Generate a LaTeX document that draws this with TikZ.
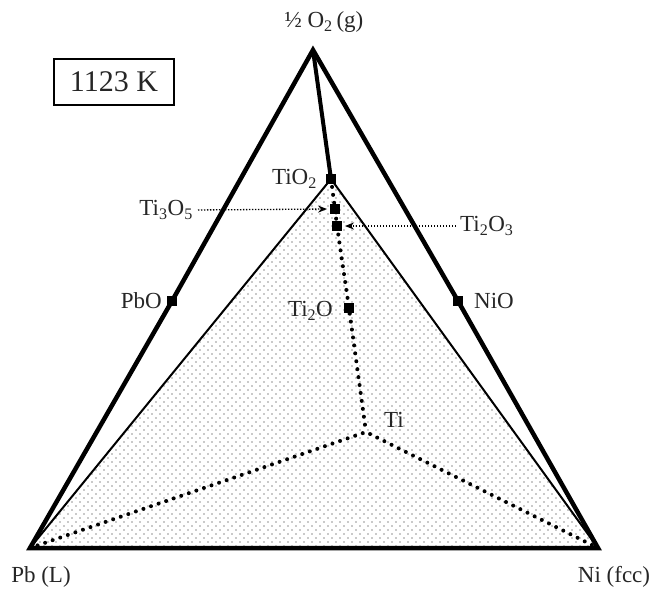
\documentclass[tikz,border=0pt]{standalone}
\usepackage{tikz}
\usepackage{fontspec}
\setmainfont{Liberation Serif}
\usetikzlibrary{arrows.meta, positioning, patterns.meta, backgrounds}
\tikzdeclarepattern{
  name=phasedots,
  bottom left={(-1pt,-1pt)},
  top right={(7pt,7pt)},
  tile size={(8pt,8pt)},
  code={\fill (0pt,0pt) circle (0.85pt); \fill (4pt,4pt) circle (0.85pt);}
}
\tikzset{
  phase/.style={fill=black, minimum size=9.5pt, inner sep=0pt},
  lbl/.style={font=\fontsize{23}{26}\selectfont, text=black!85, inner sep=0pt},
  tie/.style={line width=4pt, line cap=round, dash pattern=on 0pt off 8pt},
  pointer/.style={line width=1.3pt, dash pattern=on 1.3pt off 1.7pt, -{Stealth[length=9pt, width=7pt]}},
  boundary/.style={line width=4.5pt, line join=miter}
}

\begin{document}
\begin{tikzpicture}[x=1pt, y=-1pt]
  \useasboundingbox (0,0) rectangle (654,590);
  \coordinate (o2) at (313,50);
  \coordinate (pb) at (30,548);
  \coordinate (ni) at (598,548);
  \coordinate (ti) at (366,432);
  \node[phase] (tio2) at (331,179) {};
  \node[phase] (ti3o5) at (335,209) {};
  \node[phase] (ti2o3) at (337,226) {};
  \node[phase] (ti2o) at (349,308) {};
  \node[phase] (pbo) at (172,301) {};
  \node[phase] (nio) at (458,301) {};
  \begin{scope}[on background layer]
    \fill[pattern=phasedots, pattern color=gray!85] (pb) -- (tio2.center) -- (ni) -- cycle;
  \end{scope}
  \draw[line width=2pt] (pb) -- (tio2.center) -- (ni);
  \draw[boundary] (o2) -- (pbo.center) -- (pb) -- (ni) -- (nio.center) -- cycle;
  \draw[line width=4pt] (o2) -- (tio2.center);
  \draw[tie] (tio2.center) -- (ti3o5.center) -- (ti2o3.center) -- (ti2o.center) -- (ti);
  \draw[tie] (pb) -- (ti) -- (ni);

  \node[lbl] (o2lbl) at (324,22) {½ O\textsubscript{2}\,(g)};
  \node[draw, line width=2.8pt, font=\fontsize{30}{34}\selectfont, text=black!85, minimum width=120pt, minimum height=46pt] (temp) at (114,82) {1123 K};
  \node[lbl, left=9pt of tio2] (tio2lbl) {TiO\textsubscript{2}};
  \node[lbl, anchor=east] (ti3o5lbl) at (193,210) {Ti\textsubscript{3}O\textsubscript{5}};
  \node[lbl, anchor=west] (ti2o3lbl) at (460,226) {Ti\textsubscript{2}O\textsubscript{3}};
  \node[lbl, left=11pt of ti2o, yshift=-3pt] (ti2olbl) {Ti\textsubscript{2}O};
  \node[lbl, left=5pt of pbo] (pbolbl) {PbO};
  \node[lbl, right=11pt of nio] (niolbl) {NiO};
  \node[lbl, above right=4pt and 18pt of ti] (tilbl) {Ti};
  \node[lbl] (pblbl) at (41,577) {Pb (L)};
  \node[lbl] (nilbl) at (614,577) {Ni (fcc)};

  \draw[pointer, shorten <=5pt, shorten >=3pt] (ti3o5lbl.east) -- (ti3o5.west);
  \draw[pointer, shorten <=4pt, shorten >=3pt] (ti2o3lbl.west) -- (ti2o3.east);
\end{tikzpicture}
\end{document}
